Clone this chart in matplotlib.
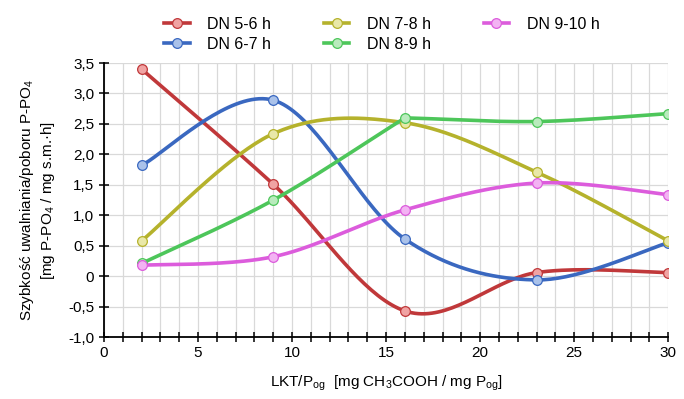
import matplotlib
matplotlib.use("Agg")
import matplotlib.pyplot as plt
from matplotlib.ticker import MultipleLocator, FuncFormatter
import numpy as np

plt.rcParams['font.family'] = ['Liberation Sans', 'DejaVu Sans']
plt.rcParams['mathtext.fontset'] = 'custom'
plt.rcParams['mathtext.rm'] = 'Liberation Sans'
plt.rcParams['mathtext.it'] = 'Liberation Sans:italic'

x = [2, 9, 16, 23, 30]
labels = ['DN 5-6 h', 'DN 6-7 h', 'DN 7-8 h', 'DN 8-9 h', 'DN 9-10 h']
dn56 = [3.40, 1.51, -0.57, 0.06, 0.06]
dn67 = [1.82, 2.89, 0.61, -0.06, 0.55]
dn78 = [0.58, 2.34, 2.52, 1.71, 0.58]
dn89 = [0.21, 1.25, 2.60, 2.54, 2.67]
dn910 = [0.18, 0.32, 1.09, 1.53, 1.34]
series = [dn56, dn67, dn78, dn89, dn910]
line_colors = ['#c0383a', '#3a68c0', '#b5b22c', '#4dc65a', '#dc5cdc']
fill_colors = ['#f0a3a3', '#aac2ea', '#e9e8a8', '#b9ebbd', '#f3b3f3']
# points where the smoothed line breaks into a corner (as in the original chart)
corners = [[], [], [], [2], []]


def smooth(xs, ys, corner=(), n=40):
    # excel-like smoothed line: bezier segments through the points
    p = np.column_stack([xs, ys]).astype(float)
    m = len(p)
    out = []
    for i in range(m - 1):
        p1, p2 = p[i], p[i + 1]
        p0 = p[i - 1] if i > 0 else p1
        p3 = p[i + 2] if i + 2 < m else p2
        if i in corner:
            c1 = p1 + (p2 - p1) / 3
        else:
            c1 = p1 + (p2 - p0) / 6
        if i + 1 in corner:
            c2 = p2 - (p2 - p1) / 3
        else:
            c2 = p2 - (p3 - p1) / 6
        t = np.linspace(0, 1, n)[:, None]
        seg = ((1 - t) ** 3 * p1 + 3 * (1 - t) ** 2 * t * c1
               + 3 * (1 - t) * t ** 2 * c2 + t ** 3 * p2)
        out.append(seg if i == 0 else seg[1:])
    out = np.vstack(out)
    return out[:, 0], out[:, 1]


fig = plt.figure(figsize=(6.84, 3.99), dpi=100)
ax = fig.add_axes([0.152, 0.155, 0.825, 0.687])

handles = []
for ys, lc, fc, lab, cr in zip(series, line_colors, fill_colors, labels, corners):
    sx, sy = smooth(x, ys, cr)
    ax.plot(sx, sy, color=lc, lw=2.6, solid_capstyle='round', zorder=3)
    ax.plot(x, ys, ls='none', marker='o', ms=7, mfc=fc, mec=lc, mew=0.9, zorder=4)
    h, = ax.plot([], [], color=lc, lw=2.6, marker='o', ms=7, mfc=fc, mec=lc,
                 mew=0.9, label=lab)
    handles.append(h)

ax.set_xlim(0, 30)
ax.set_ylim(-1.0, 3.5)
ax.xaxis.set_major_locator(MultipleLocator(5))
ax.xaxis.set_minor_locator(MultipleLocator(1))
ax.yaxis.set_major_locator(MultipleLocator(0.5))
ax.yaxis.set_major_formatter(FuncFormatter(
    lambda v, p: '0' if abs(v) < 1e-9 else f'{v:.1f}'.replace('.', ',')))

ax.grid(which='both', axis='x', color='#d9d9d9', lw=0.9, zorder=0)
ax.grid(which='major', axis='y', color='#d9d9d9', lw=0.9, zorder=0)
ax.set_axisbelow(True)
for s in ['top', 'right']:
    ax.spines[s].set_visible(False)
for s in ['left', 'bottom']:
    ax.spines[s].set_linewidth(1.3)
    ax.spines[s].set_color('black')
ax.tick_params(which='both', direction='inout', length=7, width=1.1,
               labelsize=11, colors='black')
ax.tick_params(axis='x', which='major', pad=3)

ax.set_xlabel(r'LKT/P$_{\mathrm{og}}$  [mg CH$_3$COOH / mg P$_{\mathrm{og}}$]',
              fontsize=11, labelpad=10)
ax.set_ylabel('Szybkość uwalniania/poboru P-PO$_4$\n[mg P-PO$_4$ / mg s.m.·h]',
              fontsize=11, labelpad=8)

fig.legend(handles=handles, ncol=3, loc='upper left',
           bbox_to_anchor=(0.219, 0.994), frameon=False, fontsize=11.5,
           handlelength=1.6, columnspacing=3.3, handletextpad=1.1,
           labelspacing=0.3, borderpad=0.4)

fig.savefig('out.png', dpi=100)
